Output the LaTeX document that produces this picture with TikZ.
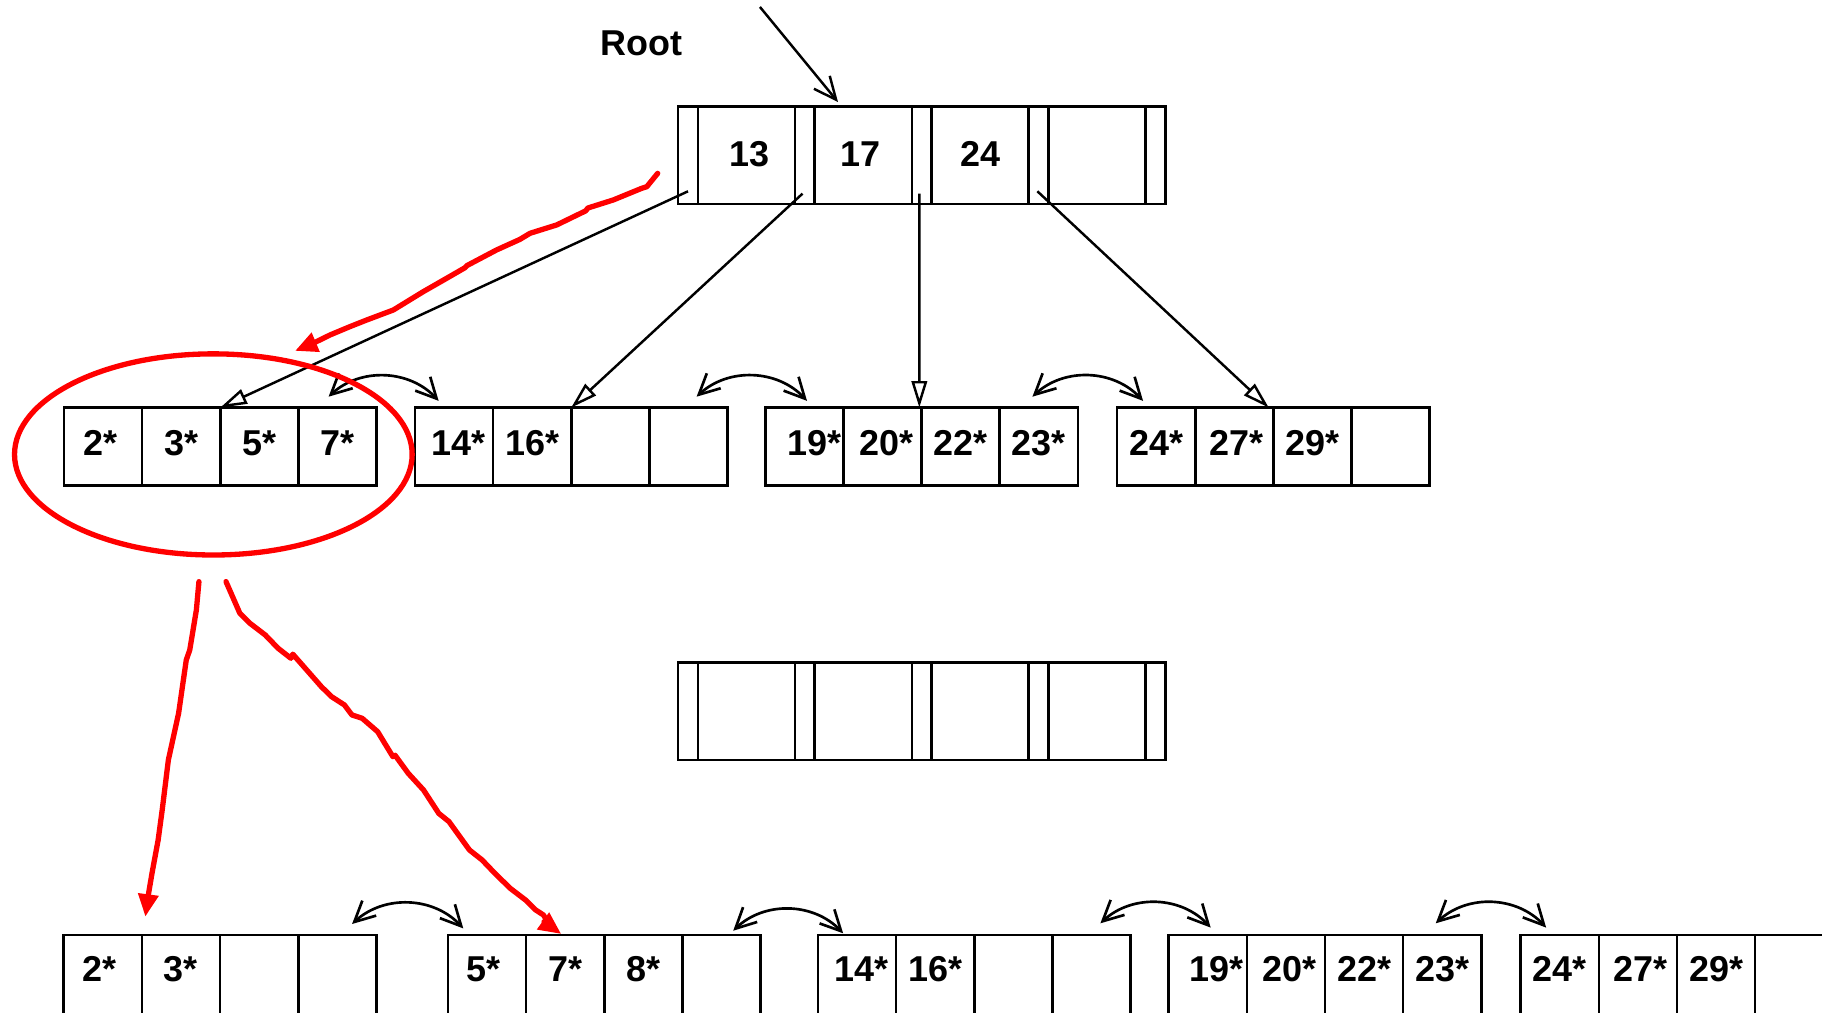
\documentclass[tikz,border=0pt]{standalone}
\usepackage{fontspec}
\setmainfont{Liberation Sans}
\usetikzlibrary{arrows.meta,calc,shapes.geometric}
\definecolor{annred}{RGB}{255,0,0}
\tikzset{
  box/.style={draw, line width=0.65pt, inner sep=0pt, outer sep=0pt, anchor=north west},
  lbl/.style={font=\fontsize{8.8}{10}\selectfont\bfseries},
  cell/.style={box, lbl, minimum width=0.672cm, minimum height=0.672cm, text depth=0.06cm},
  botcell/.style={cell, minimum height=0.72cm, text depth=0.14cm},
  pslot/.style={box, minimum width=0.17cm, minimum height=0.838cm},
  kslot/.style={box, lbl, minimum width=0.835cm, minimum height=0.838cm, text depth=0.02cm},
  ptr/.style={line width=0.6pt, -{Triangle[open, length=6.5pt, width=3.8pt]}},
  barb/.style={line width=0.6pt, -{Straight Barb[length=5.5pt, width=5pt]}},
  sib/.style={line width=0.65pt, {Straight Barb[length=5pt, width=5pt]}-{Straight Barb[length=5pt, width=5pt]}},
  redpen/.style={draw=annred, line width=1.3pt, line join=round, line cap=round},
  redarrow/.style={redpen, -{Triangle[length=5.5pt, width=4.8pt]}},
}
\newcommand\rsh[1]{\hspace*{#1}}
\newcommand\leafbox[8]{%
  \node[#1] (#2-1) at (#3,#4) {#5};
  \node[#1] (#2-2) at (#2-1.north east) {#6};
  \node[#1] (#2-3) at (#2-2.north east) {#7};
  \node[#1] (#2-4) at (#2-3.north east) {#8};
}
\newcommand\innernode[5]{%
  \node[pslot] (#1-p0) at (583.6,#2) {};
  \node[kslot] (#1-k1) at (#1-p0.north east) {#3};
  \node[pslot] (#1-p1) at (#1-k1.north east) {};
  \node[kslot] (#1-k2) at (#1-p1.north east) {#4};
  \node[pslot] (#1-p2) at (#1-k2.north east) {};
  \node[kslot] (#1-k3) at (#1-p2.north east) {#5};
  \node[pslot] (#1-p3) at (#1-k3.north east) {};
  \node[kslot] (#1-k4) at (#1-p3.north east) {};
  \node[pslot] (#1-p4) at (#1-k4.north east) {};
}
\begin{document}
\begin{tikzpicture}[x=0.01cm,y=-0.01cm]
\useasboundingbox (0,0) rectangle (1568,871);
\clip (0,0) rectangle (1568,871);
\fill[white] (0,0) rectangle (1568,871);

\node[lbl] (rootlbl) at (552,37) {Root};
\innernode{r}{91.8}{\rsh{0.05cm}13}{17\rsh{0.04cm}}{24}
\innernode{m}{570.3}{}{}{}

\leafbox{cell}{l1}{55.1}{350.8}{2*\rsh{0.05cm}}{3*}{5*}{7*}
\leafbox{cell}{l2}{357.1}{350.8}{\rsh{0.07cm}14*}{16*}{}{}
\leafbox{cell}{l3}{658.7}{350.8}{\rsh{0.18cm}19*}{\rsh{0.06cm}20*}{22*}{23*}
\leafbox{cell}{l4}{961.4}{350.8}{24*}{\rsh{0.04cm}27*}{29*}{}

\leafbox{botcell}{b1}{54.9}{804.7}{2*\rsh{0.05cm}}{3*}{}{}
\leafbox{botcell}{b2}{385.5}{804.7}{5*\rsh{0.06cm}}{7*}{8*}{}
\leafbox{botcell}{b3}{703.9}{804.7}{\rsh{0.07cm}14*}{16*}{}{}
\leafbox{botcell}{b4}{1005.8}{804.7}{\rsh{0.15cm}19*}{\rsh{0.06cm}20*}{22*}{23*}
\leafbox{botcell}{b5}{1308.7}{804.7}{24*}{\rsh{0.05cm}27*}{29*}{}

% root entry
\coordinate (rin) at (654,6);
\draw[barb] (rin) -- ($(r-k2.north west)+(20,-4)$);

% child pointers
\draw[ptr] ($(r-p0.south)+(0,-11)$) -- (l1-3.north west);
\draw[ptr] ($(r-p1.south)+(-2,-9)$) -- (l2-3.north west);
\draw[ptr] ($(r-p2.south)+(-2,-9)$) -- ($(l3-3.north west)+(-2,0)$);
\draw[ptr] ($(r-p3.south)+(-1,-11)$) -- ($(l4-3.north west)+(-4,0)$);

% sibling links, middle row
\coordinate (s1a) at (282.8,341.4); \coordinate (s1b) at (377.5,345);
\coordinate (s2a) at (599.5,341.4); \coordinate (s2b) at (694.5,345);
\coordinate (s3a) at (888.5,341.4); \coordinate (s3b) at (983.7,345);
\draw[sib] (s1a) to[bend left=45] (s1b);
\draw[sib] (s2a) to[bend left=45] (s2b);
\draw[sib] (s3a) to[bend left=45] (s3b);

% sibling links, bottom row
\coordinate (t1a) at (303,795.2);   \coordinate (t1b) at (398.7,799);
\coordinate (t2a) at (631,801);     \coordinate (t2b) at (725.6,803.2);
\coordinate (t3a) at (947,794.6);   \coordinate (t3b) at (1041.9,798.3);
\coordinate (t4a) at (1235.6,794.6);\coordinate (t4b) at (1330.6,798.3);
\draw[sib] (t1a) to[bend left=45] (t1b);
\draw[sib] (t2a) to[bend left=45] (t2b);
\draw[sib] (t3a) to[bend left=45] (t3b);
\draw[sib] (t4a) to[bend left=45] (t4b);

% red annotations
\node[draw=annred, line width=1.3pt, ellipse, minimum width=3.42cm, minimum height=1.73cm, inner sep=0pt] (ring) at (183.6,391.1) {};

\coordinate (ra0) at (566,149.2);
\coordinate (ra1) at (253.9,302);
\draw[redarrow] (ra0) -- (556.6,160.7) -- (552.2,162.1) -- (527.8,172.1) -- (506,179) -- (504,181.5) -- (479.1,193.6) -- (456.1,200.8) -- (447.5,206) -- (427.4,215.1) -- (402,228.5) -- (400,230.5) -- (384.4,239.5) -- (364.3,251) -- (338.5,266.8) -- (315.6,275.4) -- (301.2,281.1) -- (284,288.3) -- (269.6,295.4) -- (ra1);

\coordinate (rb0) at (171.2,500.6);
\coordinate (rb1) at (125.1,788.9);
\draw[redarrow] (rb0) -- (169,525) -- (163.3,559.4) -- (160.3,568) -- (153.7,613.9) -- (144.9,654) -- (139.6,697) -- (136.1,722.9) -- (130.8,751.6) -- (127.4,771.7) -- (rb1);

\coordinate (rc0) at (194.5,500.6);
\coordinate (rc1) at (483,803.8);
\draw[redarrow] (rc0) -- (206.4,527.8) -- (215.1,536.4) -- (228.3,546.5) -- (239.3,557.9) -- (250.3,566.5) -- (252,563) -- (276.6,591) -- (285.4,599.6) -- (296.4,606.7) -- (302.9,615.3) -- (311.7,618.2) -- (325,629.7) -- (338.1,651.2) -- (340,650) -- (351.3,665.5) -- (364.5,679.9) -- (377.6,700) -- (386.4,707.1) -- (404,731.5) -- (414.9,740.1) -- (425.9,751.6) -- (439.1,764.5) -- (452.2,774.5) -- (461,783.1) -- (467.6,787.4) -- (474.2,797.5) -- (rc1);
\end{tikzpicture}
\end{document}
